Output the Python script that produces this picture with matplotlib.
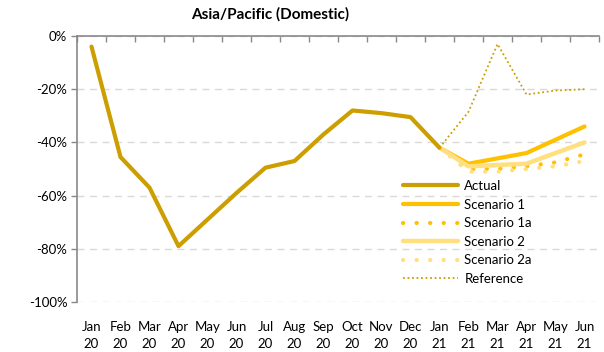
import numpy as np
import matplotlib
matplotlib.use("Agg")
import matplotlib.pyplot as plt

plt.rcParams['font.family'] = ['Lato', 'DejaVu Sans']

months = ['Jan\n20', 'Feb\n20', 'Mar\n20', 'Apr\n20', 'May\n20', 'Jun\n20',
          'Jul\n20', 'Aug\n20', 'Sep\n20', 'Oct\n20', 'Nov\n20', 'Dec\n20',
          'Jan\n21', 'Feb\n21', 'Mar\n21', 'Apr\n21', 'May\n21', 'Jun\n21']

# growth vs 2019, percent
actual = [-4, -45.5, -57, -79, -69, -59, -49.5, -47, -37, -28, -29, -30.5, -42]
scenario_1 = [-42, -48, -46, -44, -39, -34]
scenario_1a = [-42, -50, -50, -49, -47.5, -44.5]
scenario_2 = [-42, -49, -48.5, -48, -44, -40]
scenario_2a = [-42, -51, -51, -50, -49, -47]
reference = [-42, -28.5, -3, -22, -20.5, -20]

x_act = np.arange(len(actual))
x_fc = np.arange(12, 18)

fig = plt.figure(figsize=(6.04, 3.52), dpi=100)
ax = fig.add_axes([77 / 604, 1 - 302 / 352, 522 / 604, 266 / 352])

ax.plot(x_act, actual, color='#CC9E00', lw=3.0, solid_capstyle='round', label='Actual', zorder=5)
ax.plot(x_fc, scenario_1, color='#FFC000', lw=3.0, solid_capstyle='round', label='Scenario 1', zorder=4)
ax.plot(x_fc, scenario_1a, color='#FFC000', lw=3.0, ls=(0, (0.05, 3.2)),
        dash_capstyle='round', label='Scenario 1a', zorder=3)
ax.plot(x_fc, scenario_2, color='#FFDF80', lw=3.2, solid_capstyle='round', label='Scenario 2', zorder=4)
ax.plot(x_fc, scenario_2a, color='#FFDF80', lw=3.0, ls=(0, (0.05, 3.2)),
        dash_capstyle='round', label='Scenario 2a', zorder=3)
ax.plot(x_fc, reference, color='#CC9E00', lw=1.3, ls=(0, (1, 1.5)), label='Reference', zorder=3)

ax.set_xlim(-0.5, 17.5)
ax.set_ylim(-100, 0)

ax.set_yticks(np.arange(-100, 1, 20))
ax.set_yticklabels([f'{v}%' for v in range(-100, 1, 20)])
ax.yaxis.grid(True, color='#D9D9D9', ls=(0, (5, 4)), lw=1)
ax.set_axisbelow(True)

ax.set_xticks(np.arange(18))
ax.set_xticklabels(months, linespacing=1.45)
ax.set_xticks(np.arange(-0.5, 18, 1), minor=True)
ax.tick_params(axis='x', which='major', length=0, pad=14, labelsize=9.5, colors='#000000')
ax.tick_params(axis='x', which='minor', bottom=False, top=True, direction='in',
               length=4, color='#898989', width=1)
ax.tick_params(axis='y', length=4, color='#898989', width=1, labelsize=9.5, pad=3)

for side in ['right', 'bottom']:
    ax.spines[side].set_visible(False)
for side in ['left', 'top']:
    ax.spines[side].set_color('#898989')
    ax.spines[side].set_linewidth(1.2)

fig.text(270 / 604, 1 - 14 / 352, 'Asia/Pacific (Domestic)', ha='center', va='center',
         fontsize=11, fontweight='bold')

leg = ax.legend(loc='upper left', bbox_to_anchor=(403 / 604, 1 - 180 / 352),
                bbox_transform=fig.transFigure, frameon=False, fontsize=9.5,
                handlelength=4.2, handletextpad=0.45, labelspacing=0.5,
                borderpad=0, borderaxespad=0)

fig.savefig('out.png', dpi=100)
